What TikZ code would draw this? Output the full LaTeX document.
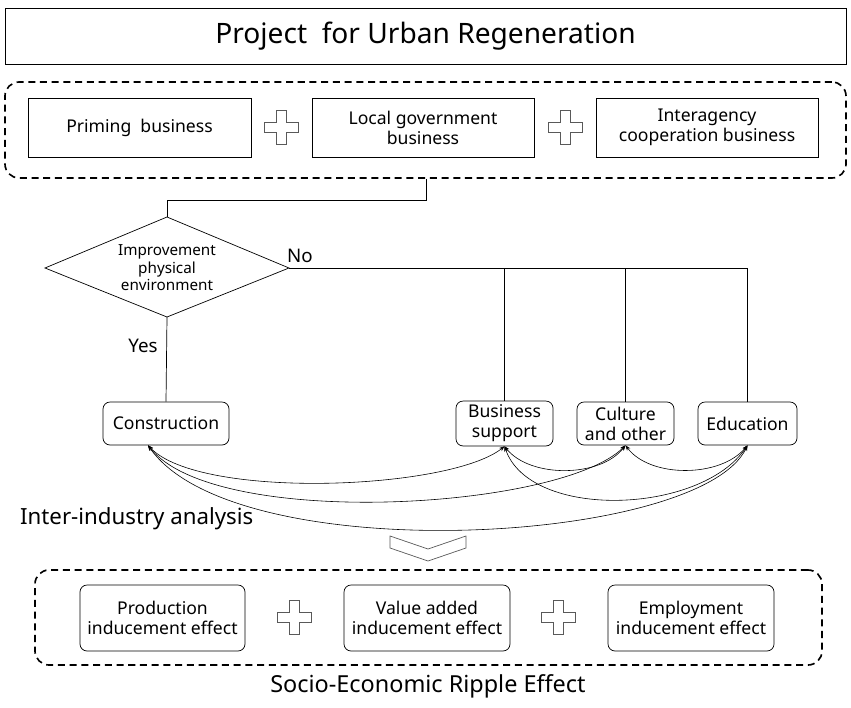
\documentclass[tikz,border=0pt]{standalone}
\usepackage{fontspec}
\setmainfont{Noto Sans}
\usetikzlibrary{arrows.meta, shapes.geometric, positioning, calc}
\newcommand{\plusmark}[1]{%
  \draw[gray!70!black, line width=0.8pt, fill=white, shift={#1}]
    (-5,-17) -- (5,-17) -- (5,-5) -- (17,-5) -- (17,5) -- (5,5) -- (5,17)
    -- (-5,17) -- (-5,5) -- (-17,5) -- (-17,-5) -- (-5,-5) -- cycle;}
\begin{document}
\begin{tikzpicture}[
    x=0.03cm, y=-0.03cm,
    box/.style={rectangle, draw, line width=0.6pt, align=center, font=\fontsize{15}{17}\selectfont},
    item/.style={box, rounded corners=6pt},
    group/.style={rectangle, draw, line width=1.4pt, dashed, dash pattern=on 6pt off 4pt, rounded corners=12pt},
    link/.style={{Stealth[length=1.6mm]}-{Stealth[length=1.6mm]}, line width=0.5pt}
  ]
  \useasboundingbox (0,0) rectangle (851,707);

  % Title
  \node[box, minimum width=25.23cm, minimum height=1.68cm, font=\fontsize{24}{28}\selectfont] (title) at (425.5,36) {Project\ \ for Urban Regeneration};

  % Businesses
  \node[group, minimum width=25.23cm, minimum height=2.88cm] (top) at (425.5,130) {};
  \node[box, minimum width=6.69cm, minimum height=1.77cm] (prime) at (139.5,127.5) {Priming\ \ business};
  \node[box, minimum width=6.66cm, minimum height=1.77cm] (local) at (423,127.5) {Local government\\business};
  \node[box, minimum width=6.66cm, minimum height=1.77cm] (inter) at (707,127.5) {Interagency\\cooperation business};
  \plusmark{(281,127)}
  \plusmark{(565,127)}

  % Decision
  \node[align=center, font=\fontsize{13}{15}\selectfont] (env) at (167,268) {Improvement\\physical\\environment};
  \coordinate (envN) at (167,217);
  \coordinate (envE) at (289,268);
  \coordinate (envS) at (167,317);
  \coordinate (envW) at (45,268);
  \draw[line width=0.6pt] (envN) -- (envE) -- (envS) -- (envW) -- cycle;
  \coordinate (split) at (426,200);
  \draw[line width=0.6pt] (top.south -| split) -- (split) -| (envN);

  % Industries
  \node[item, minimum width=3.78cm, minimum height=1.29cm] (cons) at (166,423.5) {Construction};
  \node[item, minimum width=2.91cm, minimum height=1.29cm] (bus) at (504.5,423.5) {Business\\support};
  \node[item, minimum width=2.91cm, minimum height=1.29cm] (cult) at (625.5,423.5) {Culture\\and other};
  \node[item, minimum width=2.97cm, minimum height=1.29cm] (edu) at (747.5,423.5) {Education};

  \coordinate (noend) at (747.5,268);
  \draw[line width=0.6pt] (envE) -- (noend) -- (edu.north);
  \draw[line width=0.6pt] (bus.north) -- (bus.north |- noend);
  \draw[line width=0.6pt] (cult.north) -- (cult.north |- noend);
  \draw[line width=0.6pt] (envS) -- (cons.north);
  \node[font=\fontsize{16}{18}\selectfont] (no) at (300,256) {No};
  \node[font=\fontsize{16}{18}\selectfont] (yes) at (143,346) {Yes};

  % Inter-industry links
  \coordinate (c0) at ($(cons.south)+(-18,0)$);
  \draw[link] (c0) .. controls (200,500) and (450,490) .. (bus.south);
  \draw[link] (c0) .. controls (215,530) and (560,510) .. (cult.south);
  \draw[link] (c0) .. controls (235,570) and (700,545) .. (edu.south);
  \draw[link] (bus.south) .. controls (530,478) and (600,478) .. (cult.south);
  \draw[link] (bus.south) .. controls (530,520) and (700,515) .. (edu.south);
  \draw[link] (cult.south) .. controls (650,478) and (720,478) .. (edu.south);

  \node[anchor=west, font=\fontsize{19}{22}\selectfont] (ana) at (16,519) {Inter-industry analysis};
  \draw[line width=0.6pt, gray!70!black] (390,536) -- (428,549) -- (466,536) -- (466,548) -- (428,561) -- (390,548) -- cycle;

  % Effects
  \node[group, minimum width=23.61cm, minimum height=2.85cm] (bottom) at (428.5,617.5) {};
  \node[item, minimum width=4.95cm, minimum height=1.98cm] (prod) at (162.5,618) {Production\\inducement effect};
  \node[item, minimum width=4.98cm, minimum height=1.98cm] (value) at (427,618) {Value added\\inducement effect};
  \node[item, minimum width=4.98cm, minimum height=1.98cm] (emp) at (691,618) {Employment\\inducement effect};
  \plusmark{(294,617)}
  \plusmark{(558,617)}
  \node[font=\fontsize{20}{23}\selectfont] (ripple) at (428,686) {Socio-Economic Ripple Effect};
\end{tikzpicture}
\end{document}
